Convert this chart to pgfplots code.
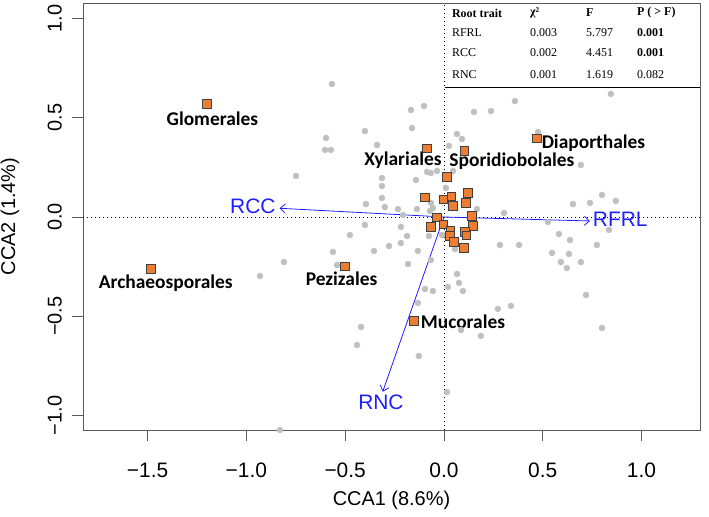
\documentclass[border=0pt]{standalone}
\usepackage{fontspec}
\setmainfont{Liberation Sans}
\newfontfamily\carlito{Carlito}
\newfontfamily\timesf{Liberation Serif}
\usepackage{pgfplots}
\pgfplotsset{compat=1.18}
\usetikzlibrary{arrows.meta}
\definecolor{orng}{RGB}{237,125,49}
\definecolor{ptgray}{RGB}{192,192,192}
\definecolor{axgray}{RGB}{90,90,90}
\definecolor{arrblue}{RGB}{30,30,255}

\pgfplotstableread{
x y
-0.567 0.670
-0.167 0.539
-0.101 0.559
-0.400 0.433
-0.162 0.448
-0.597 0.398
-0.602 0.338
-0.572 0.338
-0.339 0.363
-0.086 0.227
-0.066 0.222
-0.035 0.232
-0.749 0.207
-0.314 0.196
-0.314 0.156
-0.142 0.186
-0.314 0.096
-0.395 0.065
-0.299 0.050
-0.066 0.071
-0.056 0.045
-0.071 0.030
-0.233 0.040
-0.207 0.010
-0.137 0.040
0.167 0.040
0.304 0.020
-0.400 -0.040
-0.218 -0.050
0.025 0.358
0.066 0.418
0.091 0.393
0.152 0.529
0.238 0.534
0.359 0.584
0.010 0.146
0.845 0.620
0.476 0.428
0.046 0.232
0.693 0.262
0.653 0.065
0.739 0.071
0.800 0.111
0.870 0.081
0.526 -0.025
0.835 -0.065
0.582 -0.086
0.638 -0.116
0.283 -0.141
0.380 -0.141
0.774 -0.141
0.056 -0.161
0.547 -0.181
0.633 -0.186
0.592 -0.227
0.693 -0.227
0.622 -0.257
0.066 -0.287
0.076 -0.332
0.020 -0.353
0.096 -0.373
0.719 -0.393
0.339 -0.448
0.273 -0.463
0.086 -0.569
0.187 -0.599
0.800 -0.559
0.015 -0.882
-0.010 -0.091
-0.476 -0.091
-0.187 -0.096
-0.562 -0.176
-0.354 -0.171
-0.278 -0.146
-0.218 -0.131
-0.132 -0.171
-0.182 -0.237
-0.541 -0.242
-0.096 -0.363
-0.056 -0.373
-0.132 -0.433
-0.420 -0.554
-0.440 -0.645
-0.127 -0.700
-0.066 -0.217
-0.810 -0.227
-0.931 -0.297
-0.830 -1.073
-0.076 -0.096
}\species

\pgfplotstableread{
x y
-1.199 0.569
-1.484 -0.262
-0.501 -0.248
-0.152 -0.522
0.471 0.396
0.103 0.334
-0.088 0.346
0.014 0.202
-0.096 0.099
-0.004 0.089
0.037 0.104
0.120 0.122
0.044 0.057
0.110 0.072
-0.037 -0.002
0.142 0.005
-0.067 -0.049
-0.004 -0.037
0.145 -0.044
0.032 -0.069
0.105 -0.074
0.030 -0.094
0.113 -0.092
0.051 -0.126
0.101 -0.156
}\orders

\begin{document}
\begin{tikzpicture}
\path[use as bounding box] (-83bp,-87bp) rectangle (626bp,430bp);
\begin{axis}[
  at={(0,0)}, anchor=south west,
  scale only axis, width=617bp, height=427bp,
  xmin=-1.827, xmax=1.296, ymin=-1.073, ymax=1.078,
  axis line style={axgray, line width=0.8bp},
  tick pos=left, tick align=outside, major tick length=11bp,
  tick style={axgray, line width=0.8bp},
  xtick={-1.5,-1,-0.5,0,0.5,1},
  xticklabels={−1.5,−1.0,−0.5,0.0,0.5,1.0},
  ytick={-1,-0.5,0,0.5,1},
  yticklabels={−1.0,−0.5,0.0,0.5,1.0},
  xticklabel style={font=\fontsize{21}{21}\selectfont, anchor=north, inner sep=0pt},
  xticklabel shift=22bp,
  yticklabel style={font=\fontsize{20}{20}\selectfont, rotate=90, anchor=south, inner sep=0pt},
  yticklabel shift=10bp,
  xlabel={CCA1 (8.6\%)},
  ylabel={CCA2 (1.4\%)},
  xlabel style={font=\fontsize{20}{20}\selectfont, at={(axis description cs:0.5,-0.164)}, anchor=center},
  ylabel style={font=\fontsize{20}{20}\selectfont, at={(axis description cs:-0.1183,0.5)}, anchor=center},
  clip=false,
]
% dotted reference lines
\addplot[black, line width=0.8bp, dash pattern=on 1bp off 3bp] coordinates {(-1.827,0) (1.296,0)};
\addplot[black, line width=0.8bp, dash pattern=on 1bp off 3bp] coordinates {(0,-1.073) (0,1.078)};
% species points
\addplot[only marks, mark=*, mark size=3.1bp, color=ptgray, mark options={solid, draw=ptgray, fill=ptgray, line width=0.2bp}] table {\species};
% arrows
\addplot[arrblue, line width=0.8bp, -{Straight Barb[length=5bp,width=9bp]}] coordinates {(0,0) (0.739,-0.020)};
\addplot[arrblue, line width=0.8bp, -{Straight Barb[length=5bp,width=9bp]}] coordinates {(0,0) (-0.832,0.044)};
\addplot[arrblue, line width=0.8bp, -{Straight Barb[length=5bp,width=9bp]}] coordinates {(0,0) (-0.310,-0.880)};
% orders
\addplot[only marks, mark=square*, mark size=4.3bp, mark options={solid, draw=black!75, fill=orng, line width=0.7bp}] table {\orders};
% arrow labels
\node[arrblue, font=\fontsize{21}{21}\selectfont, anchor=west, inner sep=0pt] at (axis cs:0.753,-0.012) {RFRL};
\node[arrblue, font=\fontsize{21}{21}\selectfont, inner sep=0pt] at (axis cs:-0.967,0.055) {RCC};
\node[arrblue, font=\fontsize{21}{21}\selectfont, inner sep=0pt] at (axis cs:-0.319,-0.934) {RNC};
% order labels
\begin{scope}[every node/.style={font=\carlito\bfseries\fontsize{19.5}{19.5}\selectfont, inner sep=0pt}]
\node at (axis cs:-1.172,0.497) {Glomerales};
\node at (axis cs:-1.408,-0.334) {Archaeosporales};
\node at (axis cs:-0.518,-0.309) {Pezizales};
\node[anchor=west] at (axis cs:-0.118,-0.527) {Mucorales};
\node[anchor=west] at (axis cs:0.494,0.371) {Diaporthales};
\node at (axis cs:0.344,0.282) {Sporidiobolales};
\node at (axis cs:-0.207,0.287) {Xylariales};
\end{scope}
% table
\fill[white] (axis cs:0.006,0.650) rectangle (axis cs:1.293,1.074);
\draw[black, line width=1bp] (axis cs:0.004,0.650) -- (axis cs:1.296,0.650);
\begin{scope}[every node/.style={font=\timesf\fontsize{12}{12}\selectfont, anchor=west, inner sep=0pt}]
\node at (axis cs:0.040,1.028) {\bfseries Root trait};
\node at (axis cs:0.435,1.028) {\bfseries χ²};
\node at (axis cs:0.719,1.028) {\bfseries F};
\node at (axis cs:0.977,1.028) {\bfseries P ( > F)};
\node at (axis cs:0.040,0.927) {RFRL};
\node at (axis cs:0.435,0.927) {0.003};
\node at (axis cs:0.719,0.927) {5.797};
\node at (axis cs:0.977,0.927) {\bfseries 0.001};
\node at (axis cs:0.040,0.826) {RCC};
\node at (axis cs:0.435,0.826) {0.002};
\node at (axis cs:0.719,0.826) {4.451};
\node at (axis cs:0.977,0.826) {\bfseries 0.001};
\node at (axis cs:0.040,0.715) {RNC};
\node at (axis cs:0.435,0.715) {0.001};
\node at (axis cs:0.719,0.715) {1.619};
\node at (axis cs:0.977,0.715) {0.082};
\end{scope}
\end{axis}
\end{tikzpicture}
\end{document}
